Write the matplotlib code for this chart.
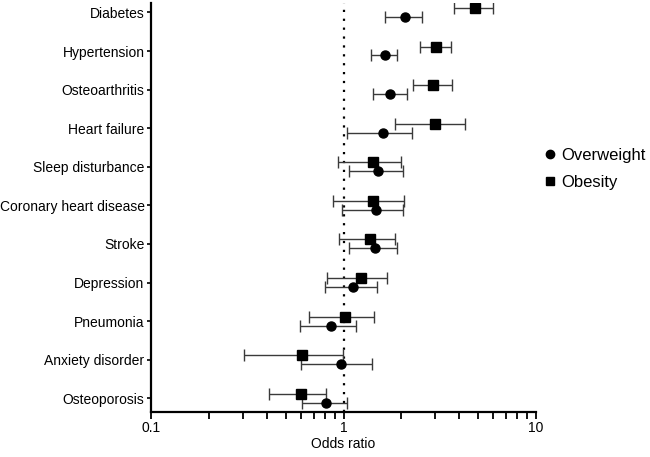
import matplotlib
matplotlib.use("Agg")
import matplotlib.pyplot as plt
import numpy as np

plt.rcParams["font.family"] = ["Liberation Sans", "DejaVu Sans"]

categories = [
    "Diabetes", "Hypertension", "Osteoarthritis", "Heart failure",
    "Sleep disturbance", "Coronary heart disease", "Stroke", "Depression",
    "Pneumonia", "Anxiety disorder", "Osteoporosis",
]

# overweight: odds ratio and 95% CI
ow_or = [2.08, 1.64, 1.75, 1.61, 1.52, 1.47, 1.46, 1.12, 0.86, 0.976, 0.815]
ow_lo = [1.65, 1.39, 1.42, 1.04, 1.07, 0.98, 1.07, 0.80, 0.59, 0.60, 0.61]
ow_hi = [2.56, 1.90, 2.13, 2.28, 2.05, 2.03, 1.89, 1.49, 1.16, 1.41, 1.04]

# obesity: odds ratio and 95% CI
ob_or = [4.83, 3.04, 2.94, 2.98, 1.43, 1.43, 1.37, 1.23, 1.02, 0.61, 0.60]
ob_lo = [3.75, 2.51, 2.31, 1.85, 0.94, 0.88, 0.95, 0.82, 0.66, 0.305, 0.41]
ob_hi = [5.97, 3.62, 3.65, 4.28, 1.99, 2.07, 1.85, 1.68, 1.44, 0.996, 0.81]

fig = plt.figure(figsize=(6.5, 4.57), dpi=100)
ax = fig.add_axes([0.233, 0.099, 0.591, 0.894])

y = np.arange(len(categories))
off = 0.115

ow = np.array(ow_or)
ob = np.array(ob_or)
ax.errorbar(ow, y + off, xerr=[ow - np.array(ow_lo), np.array(ow_hi) - ow],
            fmt="o", color="black", ms=6.5, ecolor="#3a3a3a", elinewidth=1.0,
            capsize=4, capthick=1.0, zorder=3)
ax.errorbar(ob, y - off, xerr=[ob - np.array(ob_lo), np.array(ob_hi) - ob],
            fmt="s", color="black", ms=6.5, ecolor="#3a3a3a", elinewidth=1.0,
            capsize=4, capthick=1.0, zorder=3)

ax.axvline(1, color="black", ls=(0, (1, 3)), lw=1.6, zorder=1)

ax.set_xscale("log")
ax.set_xlim(0.1, 10)
ax.set_ylim(10.35, -0.24)
ax.set_yticks(y)
ax.set_yticklabels(categories, fontsize=10)
ax.set_xticks([0.1, 1, 10])
ax.set_xticklabels(["0.1", "1", "10"], fontsize=10)
ax.set_xlabel("Odds ratio", fontsize=10, labelpad=1)

for s in ["top", "right"]:
    ax.spines[s].set_visible(False)
for s in ["left", "bottom"]:
    ax.spines[s].set_linewidth(1.6)
ax.tick_params(axis="x", which="major", length=5, width=1.3, pad=2)
ax.tick_params(axis="x", which="minor", length=5, width=1.3)
ax.tick_params(axis="y", length=3, width=1.2, pad=2)

handles = [plt.Line2D([], [], marker="o", ls="none", color="black", ms=6),
           plt.Line2D([], [], marker="s", ls="none", color="black", ms=6)]
fig.legend(handles, ["Overweight", "Obesity"], loc="upper left",
           bbox_to_anchor=(0.826, 0.691), frameon=False, fontsize=12,
           handlelength=0.8, handletextpad=0.25, labelspacing=0.7,
           borderaxespad=0)

fig.savefig("out.png", dpi=100, facecolor="white")
